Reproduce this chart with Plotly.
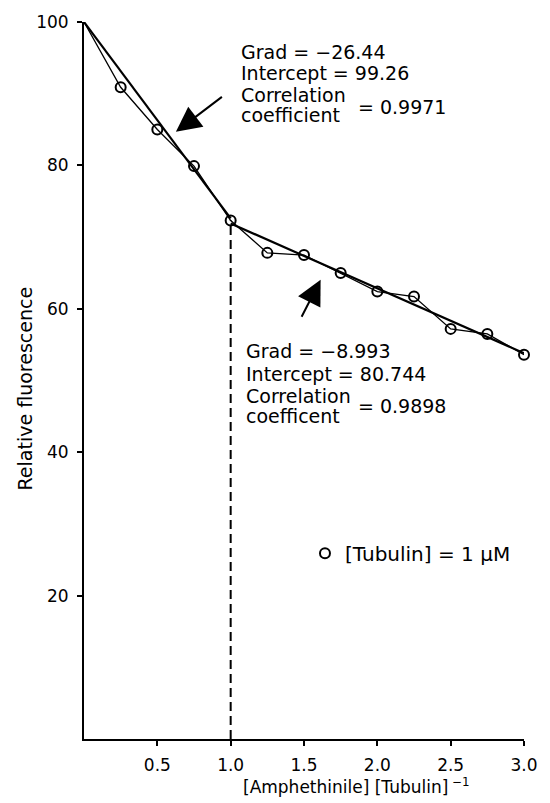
import plotly.graph_objects as go

# ---- data ----
start_x = [0.0]
start_y = [100.0]
ratio = [0.25, 0.5, 0.75, 1.0, 1.25, 1.5, 1.75, 2.0, 2.25, 2.5, 2.75, 3.0]
fluor = [90.9, 85.0, 79.9, 72.3, 67.8, 67.5, 65.0, 62.4, 61.7, 57.2, 56.5, 53.6]

fit1_x = [0.0, 1.0]
fit1_y = [100.0, 72.6]
fit2_x = [1.0, 3.0]
fit2_y = [71.9, 53.8]

break_x = [1.0, 1.0]
break_y = [0.0, 72.3]

x_ticks = [0.5, 1.0, 1.5, 2.0, 2.5, 3.0]
y_ticks = [20, 40, 60, 80, 100]

FONT = "DejaVu Sans"

fig = go.Figure()

# thin line joining the measured points (from the starting value)
fig.add_trace(go.Scatter(x=start_x + ratio, y=start_y + fluor, mode="lines",
                         line=dict(color="black", width=1.3), showlegend=False,
                         hoverinfo="skip"))
# regression lines
fig.add_trace(go.Scatter(x=fit1_x, y=fit1_y, mode="lines",
                         line=dict(color="black", width=2.2), showlegend=False))
fig.add_trace(go.Scatter(x=fit2_x, y=fit2_y, mode="lines",
                         line=dict(color="black", width=2.2), showlegend=False))
# dashed break line
fig.add_trace(go.Scatter(x=break_x, y=break_y, mode="lines",
                         line=dict(color="black", width=2, dash="9px,5px"),
                         showlegend=False))
# measured points
fig.add_trace(go.Scatter(x=ratio, y=fluor, mode="markers", name="[Tubulin] = 1 μM",
                         marker=dict(symbol="circle-open", size=10, color="black",
                                     line=dict(width=2, color="black")),
                         cliponaxis=False, showlegend=True))


def px2x(px):
    return (px - 84) / 150.0


def px2y(py):
    return (739 - py) / 7.18


annots = []


def txt(t, px, py, size=19):
    annots.append(dict(text=t, x=px2x(px), y=px2y(py), xref="x", yref="y",
                       xanchor="left", yanchor="middle", showarrow=False,
                       font=dict(family=FONT, size=size, color="black")))


txt("Grad = −26.44", 243, 51)
txt("Intercept = 99.26", 243, 72)
txt("Correlation", 243, 94)
txt("coefficient", 243, 114)
txt("= 0.9971", 362, 106)

txt("Grad = −8.993", 248, 350)
txt("Intercept = 80.744", 248, 373)
txt("Correlation", 248, 396)
txt("coefficent", 248, 416)
txt("= 0.9898", 362, 406)

# arrows
annots.append(dict(x=px2x(178), y=px2y(131), xref="x", yref="y", text=" ",
                   showarrow=True, ax=50, ay=-38, arrowhead=2, arrowsize=2.5,
                   arrowwidth=2, arrowcolor="black", standoff=0))
annots.append(dict(x=px2x(326), y=px2y(279), xref="x", yref="y", text=" ",
                   showarrow=True, ax=-23, ay=45, arrowhead=2, arrowsize=2.5,
                   arrowwidth=2, arrowcolor="black", standoff=0))

# axis titles
annots.append(dict(text="[Amphethinile] [Tubulin]<sup> −1</sup>", x=px2x(363), y=0,
                   xref="x", yref="paper", yanchor="middle", yshift=-47,
                   showarrow=False, font=dict(family=FONT, size=17, color="black")))
annots.append(dict(text="Relative fluorescence", x=0, xref="paper", xshift=-59,
                   y=px2y(388), yref="y", textangle=-90, showarrow=False,
                   xanchor="center", yanchor="middle",
                   font=dict(family=FONT, size=19, color="black")))

fig.update_layout(
    width=550, height=803,
    margin=dict(l=84, r=16, t=21, b=64),
    paper_bgcolor="white", plot_bgcolor="white",
    font=dict(family=FONT, size=17, color="black"),
    annotations=annots,
    showlegend=True,
    legend=dict(x=(310 - 84) / 450.0, y=(739 - 553) / 718.0,
                font=dict(family=FONT, size=20, color="black"),
                bgcolor="rgba(0,0,0,0)", borderwidth=0,
                xanchor="left", yanchor="middle"),
    xaxis=dict(range=[0, 3], showline=True, linecolor="black", linewidth=2,
               ticks="outside", ticklen=5, tickwidth=2, tickcolor="black",
               tickvals=x_ticks, ticktext=[f"{v:.1f}" for v in x_ticks],
               tickfont=dict(family=FONT, size=17, color="black"),
               showgrid=False, zeroline=False, ticklabelstandoff=5),
    yaxis=dict(range=[0, 100], showline=True, linecolor="black", linewidth=2,
               ticks="outside", ticklen=5, tickwidth=2, tickcolor="black",
               tickvals=y_ticks, showgrid=False, zeroline=False,
               tickfont=dict(family=FONT, size=17, color="black"),
               ticklabelstandoff=5),
)

fig.write_html("out.html")
